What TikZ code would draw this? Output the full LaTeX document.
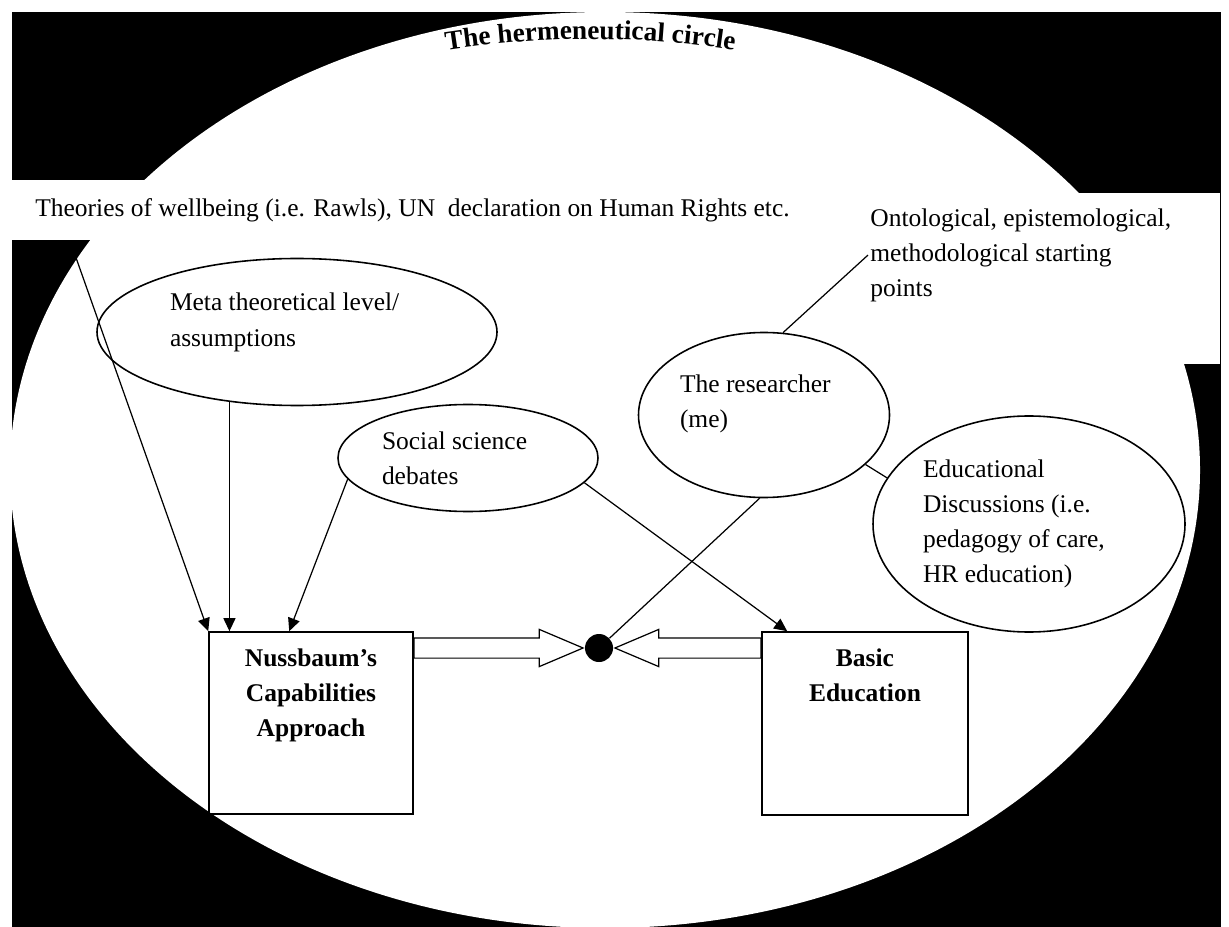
\documentclass[tikz,border=0pt]{standalone}
\usepackage{fontspec}
\setmainfont{Liberation Serif}
\usetikzlibrary{positioning}
\usetikzlibrary{calc}
\usetikzlibrary{arrows.meta}
\usetikzlibrary{shapes.geometric}
\usetikzlibrary{shapes.arrows}
\usetikzlibrary{decorations.text}
\newcommand{\txtfont}{\fontsize{14.5}{20}\selectfont}
\newcommand{\boldtxt}{\fontsize{14.5}{20}\selectfont\bfseries}
\newcommand{\arcfont}{\fontsize{15.5}{18}\selectfont\bfseries}
\tikzset{bubble/.style={draw, ellipse, line width=0.9pt, inner sep=0pt, align=flush left, font=\txtfont}}
\tikzset{frame/.style={draw, rectangle, line width=0.9pt}}
\tikzset{link/.style={draw, line width=0.7pt}}
\tikzset{pointer/.style={link, -{Triangle[length=0.26cm, width=0.24cm]}}}
\tikzset{hollow arrow/.style={draw, single arrow,
                              line width=0.7pt,
                              inner sep=0.19cm,
                              single arrow head extend=0.17cm,
                              single arrow tip angle=46}}

\begin{document}
\begin{tikzpicture}
      [
      x=0.2mm, y=0.2mm,
      box text/.style={font=\boldtxt, align=center, inner sep=0pt},
      panel text/.style={font=\txtfont, align=flush left, inner ysep=0pt},
      ]

      \useasboundingbox (0,0) rectangle (1229,-927);

      % background and the circle
      \fill[black] (12,-12) rectangle (1221,-927);
      \fill[white] (605,-470) ellipse [x radius=11.9cm, y radius=9.16cm];
      \fill[white] (12,-180) rectangle (800,-240);
      \fill[white] (862,-193) rectangle (1220,-364);
      \path[decorate, decoration={text along path, text align=center,
            text={|\arcfont|The hermeneutical circle}}]
            (436,-52) arc [start angle=99.6, end angle=80.4, radius=18.5cm];

      % texts on the white panels
      \node [panel text, anchor=north west, minimum height=1.2cm, inner xsep=0.46cm]
            (theories) at (12,-180)
            {Theories of wellbeing (i.e. Rawls), UN~ declaration on Human Rights etc.};
      \node [panel text, anchor=north west, text width=6.8cm, inner xsep=0.16cm, inner ysep=0.3cm]
            (onto) at (862,-193)
            {Ontological, epistemological,\\methodological starting\\points};

      % ellipses
      \node [bubble, text width=5.08cm, text depth=34pt, minimum width=8cm, minimum height=2.94cm]
            (meta) at (297,-332) {Meta theoretical level/\\assumptions};
      \node [bubble, text width=3.44cm, minimum width=5.2cm, minimum height=2.14cm]
            (social) at (468,-458) {Social science\\debates};
      \node [bubble, text width=3.36cm, text depth=36pt, minimum width=5.02cm, minimum height=3.3cm]
            (me) at (764,-415) {The researcher\\(me)};
      \node [bubble, text width=4.24cm, minimum width=6.24cm, minimum height=4.32cm]
            (edu) at (1029,-524) {Educational\\Discussions (i.e.\\pedagogy of care,\\HR education)};

      % boxes
      \node [frame, minimum width=4.08cm, minimum height=3.64cm] (cap) at (311,-723) {};
      \node [box text, below=0.34cm of cap.north] (capt) {Nussbaum's\\Capabilities\\Approach};
      \node [frame, minimum width=4.12cm, minimum height=3.66cm] (basic) at (865,-723.5) {};
      \node [box text, below=0.34cm of basic.north] (basict) {Basic\\Education};

      % meeting point
      \node [circle, fill=black, minimum size=0.56cm, inner sep=0pt] (dot) at (599,-648) {};
      \node [hollow arrow, minimum height=3.38cm, anchor=tip] (tocap) at (dot.west) {};
      \node [hollow arrow, minimum height=2.92cm, shape border rotate=180, anchor=tip]
            (tobasic) at (dot.east) {};

      % edges
      \draw [pointer] ($(theories.south west)+(58,0)$) -- (cap.north west);
      \draw [pointer] (meta.226) -- (meta.226 |- cap.north);
      \draw [pointer] (social.190) -- ($(cap.north west)+(81,0)$);
      \draw [pointer] (social.-12) -- ($(basic.north west)+(26,0)$);

      \draw [link] (dot) -- (me.267);
      \draw [link] (me.77) -- ($(onto.west)+(6,0)$);
      \draw [link] (me.-26) -- (edu.162);

    \end{tikzpicture}
\end{document}
